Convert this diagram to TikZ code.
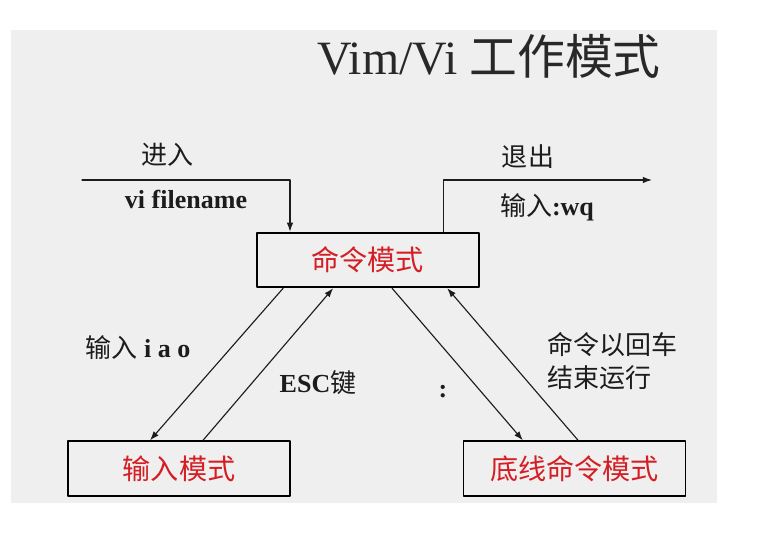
\documentclass[tikz,border=0pt]{standalone}
\usepackage{fontspec}
\setmainfont{Liberation Serif}
\newfontfamily\cjk{Noto Sans CJK SC}
\usetikzlibrary{arrows.meta}

\begin{document}
\begin{tikzpicture}[line cap=round,line join=round,
    modebox/.style={draw=black,line width=1.4pt,minimum width=5.55cm,minimum height=1.36cm,
      inner sep=0pt,text=modered,font=\cjk\fontsize{20}{24}\selectfont},
    lbl/.style={text=ink,inner sep=0pt,font=\fontsize{18.5}{23.4}\selectfont},
    arr/.style={draw=ink,line width=0.8pt,-{Latex[length=6.5pt,width=4.6pt]}}]
  \definecolor{paper}{RGB}{239,239,239}
  \definecolor{ink}{RGB}{28,28,28}
  \definecolor{titleink}{RGB}{40,40,40}
  \definecolor{modered}{RGB}{212,30,36}

  \useasboundingbox (0,0) rectangle (19.5,13.6);

  % ---- slide background ----
  \fill[paper] (0.275,1.025) rectangle (17.925,12.85);

  % title
  \node[anchor=base west,inner sep=0pt,text=titleink,font=\fontsize{34}{40}\selectfont]
    (title) at (7.925,11.74) {Vim/Vi {\cjk 工作模式}};

  % ---- the three modes ----
  \node[modebox] (cmd) at (9.19,7.1) {命令模式};
  \node[modebox] (ins) at (4.475,1.8875) {输入模式};
  \node[modebox] (last) at (14.3625,1.8875) {底线命令模式};

  % ---- enter / leave ----
  \coordinate (enter) at (2.05,9.1);
  \coordinate (leave) at (16.3,9.1);
  \draw[arr] (enter) -| ([xshift=-1.94cm]cmd.north);
  \draw[arr] ([xshift=1.89cm]cmd.north) |- (leave);
  \node[lbl] (enterlbl) at (4.2,9.725) {\cjk 进入};
  \node[lbl] (enterkey) at (4.65,8.625) {\textbf{vi filename}};
  \node[lbl] (leavelbl) at (13.2,9.675) {\cjk 退出};
  \node[lbl] (leavekey) at (13.675,8.425) {{\cjk 输入}\textbf{:wq}};

  % ---- command <-> insert ----
  \draw[arr] ([xshift=-2.11cm]cmd.south) -- ([xshift=-0.725cm]ins.north);
  \draw[arr] ([xshift=0.6cm]ins.north) -- ([xshift=-0.86cm]cmd.south);
  \node[lbl] (inskey) at (3.45,4.9) {{\cjk 输入}\textbf{ i a o}};
  \node[lbl] (esckey) at (7.95,4.025) {\textbf{ESC}{\cjk 键}};

  % ---- command <-> last line ----
  \draw[arr] ([xshift=0.61cm]cmd.south) -- ([xshift=-1.29cm]last.north);
  \draw[arr] ([xshift=0.09cm]last.north) -- ([xshift=1.99cm]cmd.south);
  \node[lbl] (colonkey) at (11.075,3.8) {\textbf{:}};
  \node[lbl,anchor=west,align=left,font=\cjk\fontsize{18.5}{23.4}\selectfont]
    (runlbl) at (13.675,4.575) {命令以回车\\结束运行};
\end{tikzpicture}
\end{document}
